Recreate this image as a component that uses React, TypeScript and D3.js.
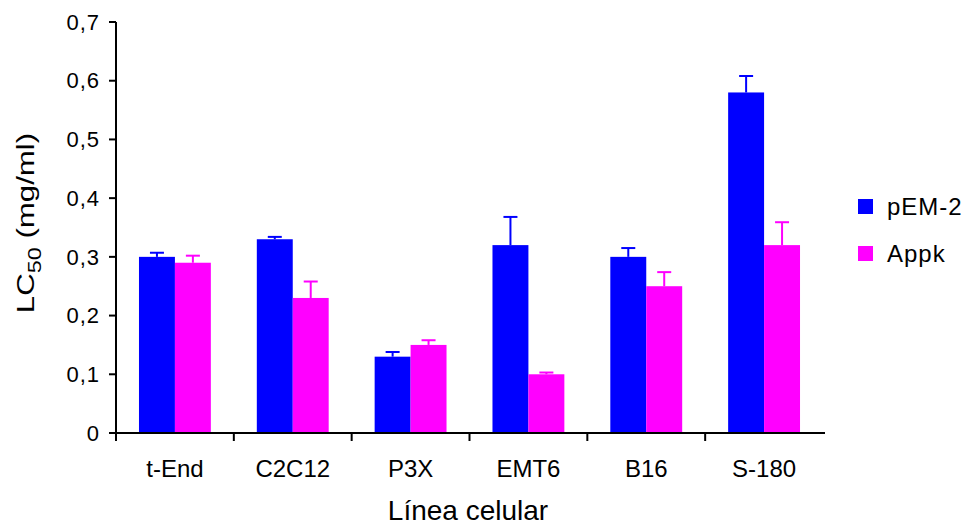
import React from 'react';
import * as d3 from 'd3';

const categories = ['t-End', 'C2C12', 'P3X', 'EMT6', 'B16', 'S-180'];
const seriesNames = ['pEM-2', 'Appk'];
const pem2 = [0.3, 0.33, 0.13, 0.32, 0.3, 0.58];
const pem2Err = [0.007, 0.004, 0.008, 0.048, 0.015, 0.028];
const appk = [0.29, 0.23, 0.15, 0.1, 0.25, 0.32];
const appkErr = [0.012, 0.028, 0.008, 0.003, 0.024, 0.039];
const yTicks = [0, 0.1, 0.2, 0.3, 0.4, 0.5, 0.6, 0.7];
const yTickLabels = ['0', '0,1', '0,2', '0,3', '0,4', '0,5', '0,6', '0,7'];
const colors = ['#0000ff', '#ff00ff'];

const width = 973;
const height = 529;
const plot = { left: 116, right: 823, top: 22, bottom: 433 };
const font = '"Liberation Sans", Arial, sans-serif';

const App = () => {
  const x = d3.scaleBand<string>()
    .domain(categories)
    .range([plot.left, plot.right])
    .paddingInner(0.39)
    .paddingOuter(0.195);

  const xSeries = d3.scaleBand<string>()
    .domain(seriesNames)
    .range([0, x.bandwidth()]);

  const y = d3.scaleLinear().domain([0, 0.7]).range([plot.bottom, plot.top]);

  const series = [
    { name: seriesNames[0], values: pem2, errs: pem2Err, color: colors[0] },
    { name: seriesNames[1], values: appk, errs: appkErr, color: colors[1] },
  ];

  const step = x.step();
  const start = x.range()[0];
  const boundaries = categories.map((_, i) => start + i * step);

  return (
    <svg
      width={width}
      height={height}
      style={{ position: 'absolute', left: 0, top: 0, background: '#fff' }}
      fontFamily={font}
    >
      <rect width={width} height={height} fill="#fff" />

      {/* bars + error bars */}
      {series.map(s => (
        <g key={s.name}>
          {categories.map((c, i) => {
            const bx = (x(c) ?? 0) + (xSeries(s.name) ?? 0);
            const bw = xSeries.bandwidth();
            const cx = bx + bw / 2;
            const top = y(s.values[i]);
            const errTop = y(s.values[i] + s.errs[i]);
            return (
              <g key={c}>
                <line x1={cx} x2={cx} y1={top} y2={errTop} stroke={s.color} strokeWidth={2} />
                <line x1={cx - 7} x2={cx + 7} y1={errTop} y2={errTop} stroke={s.color} strokeWidth={2} />
                <rect x={bx} y={top} width={bw} height={y(0) - top} fill={s.color} />
              </g>
            );
          })}
        </g>
      ))}

      {/* y axis */}
      <line x1={plot.left} x2={plot.left} y1={y(0.7)} y2={y(0) + 1} stroke="#000" strokeWidth={2} />
      {yTicks.map((t, i) => (
        <g key={t} transform={`translate(0, ${y(t)})`}>
          <line x1={plot.left - 7} x2={plot.left} stroke="#000" strokeWidth={2} />
          <text
            x={plot.left - 16}
            dy="0.35em"
            textAnchor="end"
            fontSize={22}
            letterSpacing={1}
            fill="#000"
          >
            {yTickLabels[i]}
          </text>
        </g>
      ))}

      {/* x axis */}
      <line x1={plot.left - 1} x2={plot.right + 2} y1={y(0)} y2={y(0)} stroke="#000" strokeWidth={2} />
      {boundaries.map(b => (
        <line key={b} x1={b} x2={b} y1={y(0)} y2={y(0) + 8} stroke="#000" strokeWidth={2} />
      ))}
      {categories.map(c => (
        <text
          key={c}
          x={(x(c) ?? 0) + x.bandwidth() / 2}
          y={477}
          textAnchor="middle"
          fontSize={24}
          fill="#000"
        >
          {c}
        </text>
      ))}

      {/* axis titles */}
      <text x={468} y={520} textAnchor="middle" fontSize={28} fill="#000">
        Línea celular
      </text>
      <g transform="translate(34, 223) rotate(-90) scale(1.3, 1)">
        <text textAnchor="middle" fontSize={24} fill="#000">
          LC<tspan fontSize={18} dy={7}>50</tspan>
          <tspan dy={-7}> (mg/ml)</tspan>
        </text>
      </g>

      {/* legend */}
      {series.map((s, i) => (
        <g key={s.name} transform={`translate(858, ${199 + i * 47})`}>
          <rect width={15} height={15} fill={s.color} />
          <text x={29} y={16} fontSize={24} letterSpacing={1} fill="#000">
            {s.name}
          </text>
        </g>
      ))}
    </svg>
  );
};

export default App;
